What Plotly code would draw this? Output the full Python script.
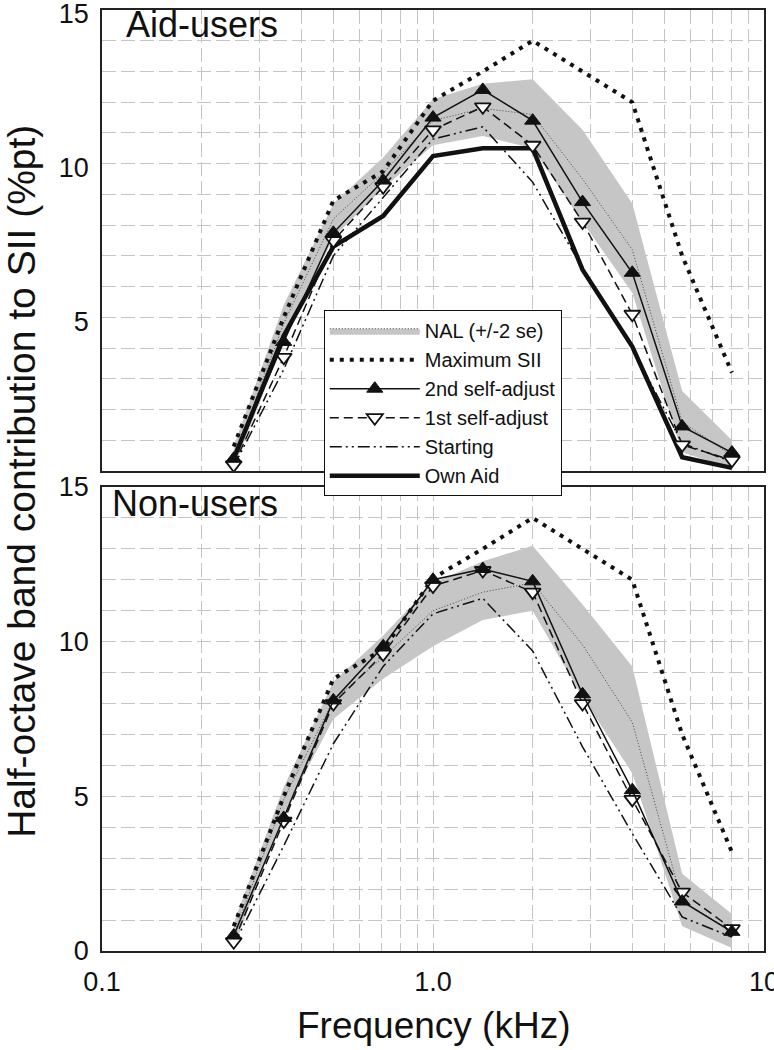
import plotly.graph_objects as go

# ---------------- data ----------------
freq_khz = [0.25, 0.354, 0.5, 0.707, 1.0, 1.414, 2.0, 2.83, 4.0, 5.66, 8.0]

max_sii = [0.8, 5.0, 8.8, 9.75, 12.05, 13.0, 14.0, 13.0, 12.0, 7.0, 3.2]

# Aid-users panel
aid_nal_mean = [0.4, 4.8, 8.2, 9.7, 11.4, 11.8, 11.6, 9.5, 7.2, 1.6, 0.5]
aid_nal_upper = [0.8, 5.4, 8.7, 10.2, 12.1, 12.6, 12.75, 11.1, 8.7, 2.6, 1.0]
aid_nal_lower = [0.1, 4.2, 7.6, 9.2, 10.6, 10.9, 10.5, 8.1, 5.8, 0.6, 0.1]
aid_second = [0.4, 4.2, 7.75, 9.45, 11.5, 12.4, 11.4, 8.75, 6.45, 1.45, 0.6]
aid_first = [0.2, 3.7, 7.5, 9.25, 11.1, 11.85, 10.6, 8.1, 5.1, 0.85, 0.35]
aid_starting = [0.15, 3.3, 7.0, 8.9, 10.8, 11.2, 9.4, 6.6, 4.0, 0.9, 0.3]
aid_own = [0.4, 4.4, 7.3, 8.3, 10.25, 10.5, 10.5, 6.55, 4.05, 0.45, 0.1]

# Non-users panel
non_nal_mean = [0.5, 4.9, 8.1, 9.5, 11.0, 11.6, 11.9, 9.9, 7.4, 1.6, 0.65]
non_nal_upper = [0.9, 5.3, 8.7, 10.2, 11.9, 12.6, 13.1, 11.2, 9.2, 2.5, 1.2]
non_nal_lower = [0.1, 4.45, 7.5, 8.8, 9.85, 10.7, 11.0, 8.2, 5.75, 0.8, 0.1]
non_second = [0.5, 4.3, 8.1, 9.85, 12.0, 12.35, 11.95, 8.3, 5.2, 1.6, 0.62]
non_first = [0.3, 4.2, 8.0, 9.6, 11.8, 12.3, 11.6, 8.0, 4.9, 1.9, 0.72]
non_starting = [0.2, 3.4, 6.7, 9.2, 10.9, 11.4, 9.7, 6.6, 3.8, 1.1, 0.45]

x_tick_vals = [0.1, 1.0, 10.0]
x_tick_text = ["0.1", "1.0", "10"]
x_minor_vals = [0.2, 0.3, 0.4, 0.5, 0.6, 0.7, 0.8, 0.9, 2, 3, 4, 5, 6, 7, 8, 9]
top_y_ticks = [5, 10, 15]
bottom_y_ticks = [0, 5, 10, 15]

legend_names = ["NAL (+/-2 se)", "Maximum SII", "2nd self-adjust",
                "1st self-adjust", "Starting", "Own Aid"]
panel_titles = ["Aid-users", "Non-users"]

# ---------------- styles ----------------
FONT = "Liberation Sans, Arial, sans-serif"
BAND = "#c6c6c6"
GRID = "#c4c4c4"
GRIDDASH = "14px,5px"

fig = go.Figure()


def add_panel(xa, ya, nal_mean, nal_up, nal_lo, second, first, starting, own, show):
    band_x = freq_khz + freq_khz[::-1]
    band_y = nal_up + nal_lo[::-1]
    fig.add_trace(go.Scatter(x=band_x, y=band_y, xaxis=xa, yaxis=ya, mode="lines",
                             fill="toself", fillcolor=BAND, line=dict(width=0, color=BAND),
                             showlegend=False, hoverinfo="skip"))
    fig.add_trace(go.Scatter(x=freq_khz, y=nal_mean, xaxis=xa, yaxis=ya, mode="lines",
                             line=dict(color="#444", width=1, dash="1px,2px"),
                             showlegend=False))
    fig.add_trace(go.Scatter(x=freq_khz, y=max_sii, xaxis=xa, yaxis=ya, mode="lines",
                             name=legend_names[1], legendrank=2, showlegend=show,
                             line=dict(color="#111", width=4, dash="4px,6px")))
    if own is not None:
        fig.add_trace(go.Scatter(x=freq_khz, y=own, xaxis=xa, yaxis=ya, mode="lines",
                                 name=legend_names[5], legendrank=6, showlegend=show,
                                 line=dict(color="#111", width=4.5)))
    fig.add_trace(go.Scatter(x=freq_khz, y=starting, xaxis=xa, yaxis=ya, mode="lines",
                             name=legend_names[4], legendrank=5, showlegend=show,
                             line=dict(color="#111", width=1.5,
                                       dash="12px,4px,2px,4px,2px,4px")))
    fig.add_trace(go.Scatter(x=freq_khz, y=first, xaxis=xa, yaxis=ya, mode="lines+markers",
                             name=legend_names[3], legendrank=4, showlegend=show,
                             line=dict(color="#111", width=1.5, dash="9px,5px"),
                             marker=dict(symbol="triangle-down", size=14, color="white",
                                         line=dict(color="#111", width=1.8))))
    fig.add_trace(go.Scatter(x=freq_khz, y=second, xaxis=xa, yaxis=ya, mode="lines+markers",
                             name=legend_names[2], legendrank=3, showlegend=show,
                             line=dict(color="#111", width=1.5),
                             marker=dict(symbol="triangle-up", size=14, color="#111",
                                         line=dict(color="#111", width=1))))


# legend-only entry for the NAL band (fill + thin dotted line)
fig.add_trace(go.Scatter(x=[None], y=[None], mode="lines", fill="toself",
                         fillcolor=BAND, name=legend_names[0], legendrank=1,
                         line=dict(color="#444", width=1, dash="1px,2px")))

add_panel("x", "y", aid_nal_mean, aid_nal_upper, aid_nal_lower,
          aid_second, aid_first, aid_starting, aid_own, True)
add_panel("x2", "y2", non_nal_mean, non_nal_upper, non_nal_lower,
          non_second, non_first, non_starting, None, False)

axis_common = dict(showgrid=True, gridcolor=GRID, griddash=GRIDDASH, gridwidth=1,
                   showline=True, mirror=True, linecolor="#222", linewidth=1.5,
                   zeroline=False, ticks="outside", ticklen=6,
                   tickcolor="rgba(0,0,0,0)", ticklabeloverflow="allow",
                   tickfont=dict(family=FONT, size=27, color="#111"))

xcommon = dict(axis_common, type="log", range=[-1, 1], tickvals=x_tick_vals,
               ticktext=x_tick_text,
               minor=dict(tickvals=x_minor_vals, showgrid=True, gridcolor=GRID,
                          griddash=GRIDDASH, gridwidth=1, ticks=""))

ycommon = dict(axis_common, range=[0, 15],
               minor=dict(dtick=1, showgrid=True, gridcolor=GRID, griddash=GRIDDASH,
                          gridwidth=1, ticks=""))

fig.update_layout(
    width=774, height=1050,
    margin=dict(l=102, r=10, t=10, b=99, autoexpand=False),
    paper_bgcolor="white", plot_bgcolor="white",
    font=dict(family=FONT, color="#111"),
    xaxis=dict(xcommon, domain=[0, 1], anchor="y", showticklabels=False),
    xaxis2=dict(xcommon, domain=[0, 1], anchor="y2", showticklabels=True),
    yaxis=dict(ycommon, domain=[0.5101, 1.0], anchor="x", tickvals=top_y_ticks,
               ticklabelshift=4),
    yaxis2=dict(ycommon, domain=[0.0, 0.4931], anchor="x2", tickvals=bottom_y_ticks),
    legend=dict(x=0.335, y=0.681, xanchor="left", yanchor="top",
                bgcolor="white", bordercolor="#111", borderwidth=1,
                font=dict(family=FONT, size=20, color="#111"),
                itemwidth=90, tracegroupgap=0, traceorder="normal"),
    showlegend=True,
    annotations=[
        dict(text=panel_titles[0], xref="paper", yref="paper", x=0.033, y=1.0085,
             xanchor="left", yanchor="top", showarrow=False,
             font=dict(family=FONT, size=36, color="#111")),
        dict(text=panel_titles[1], xref="paper", yref="paper", x=0.012, y=0.4995,
             xanchor="left", yanchor="top", showarrow=False,
             font=dict(family=FONT, size=36, color="#111")),
        dict(text="Half-octave band contribution to SII (%pt)", xref="paper",
             yref="paper", x=-0.121, y=0.4995, xanchor="center", yanchor="middle",
             textangle=-90, showarrow=False,
             font=dict(family=FONT, size=39, color="#111")),
        dict(text="Frequency (kHz)", xref="paper", yref="paper", x=0.5, y=-0.079,
             xanchor="center", yanchor="middle", showarrow=False,
             font=dict(family=FONT, size=37, color="#111")),
    ],
)

fig.write_html("out.html",
               config={"displayModeBar": False},
               post_script="document.body.style.margin='0';")
